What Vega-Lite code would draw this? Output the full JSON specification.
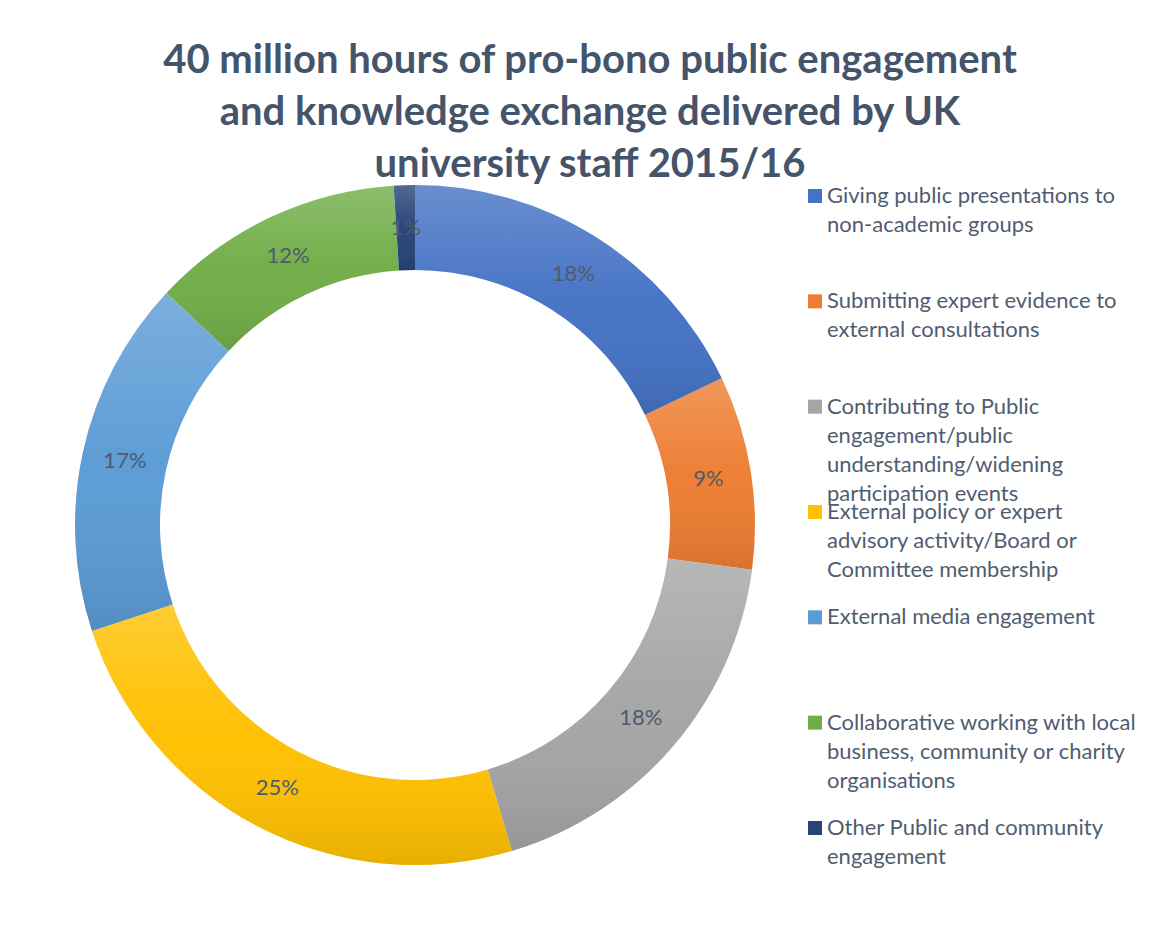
{
  "$schema": "https://vega.github.io/schema/vega-lite/v6.json",
  "padding": {"left": 75, "top": 41, "right": 0, "bottom": 0},
  "background": "white",
  "config": {"view": {"stroke": null}, "font": "Lato"},
  "title": {
    "text": ["40 million hours of pro-bono public engagement", "and knowledge exchange delivered by UK", "university staff 2015/16"],
    "fontSize": 40, "font": "Lato", "fontWeight": "bold", "color": "#44546A",
    "lineHeight": 52, "anchor": "middle", "frame": "group", "dx": 515, "offset": 0
  },
  "data": {"values": [
    {"i": 1, "cat": "Giving public presentations to non-academic groups", "value": 0.179, "legend": "Giving public presentations to\nnon-academic groups"},
    {"i": 2, "cat": "Submitting expert evidence to external consultations", "value": 0.092, "legend": "Submitting expert evidence to\nexternal consultations"},
    {"i": 3, "cat": "Contributing to Public engagement/public understanding/widening participation events", "value": 0.183, "legend": "Contributing to Public\nengagement/public\nunderstanding/widening\nparticipation events"},
    {"i": 4, "cat": "External policy or expert advisory activity/Board or Committee membership", "value": 0.2455, "legend": "External policy or expert\nadvisory activity/Board or\nCommittee membership"},
    {"i": 5, "cat": "External media engagement", "value": 0.170, "legend": "External media engagement"},
    {"i": 6, "cat": "Collaborative working with local business, community or charity organisations", "value": 0.1205, "legend": "Collaborative working with local\nbusiness, community or charity\norganisations"},
    {"i": 7, "cat": "Other Public and community engagement", "value": 0.010, "legend": "Other Public and community\nengagement"}
  ]},
  "spacing": 0,
  "bounds": "flush",
  "resolve": {"scale": {"color": "shared"}},
  "hconcat": [
    {
      "width": 680, "height": 680,
      "layer": [
        {
          "mark": {"type": "arc", "outerRadius": 340, "innerRadius": 255},
          "encoding": {
            "theta": {"field": "value", "type": "quantitative", "stack": true},
            "order": {"field": "i", "type": "quantitative"},
            "color": {
              "field": "cat", "type": "nominal", "legend": null,
              "scale": {
                "domain": [
                  "Giving public presentations to non-academic groups",
                  "Submitting expert evidence to external consultations",
                  "Contributing to Public engagement/public understanding/widening participation events",
                  "External policy or expert advisory activity/Board or Committee membership",
                  "External media engagement",
                  "Collaborative working with local business, community or charity organisations",
                  "Other Public and community engagement"
                ],
                "range": ["#4472C4", "#ED7D31", "#A5A5A5", "#FFC000", "#5B9BD5", "#70AD47", "#264478"]
              }
            }
          }
        },
        {
          "mark": {"type": "arc", "outerRadius": 340, "innerRadius": 255,
            "color": {"gradient": "linear", "x1": 0, "y1": 0, "x2": 0, "y2": 1, "stops": [
              {"offset": 0, "color": "rgba(255,255,255,0.2)"},
              {"offset": 0.5, "color": "rgba(255,255,255,0.02)"},
              {"offset": 1, "color": "rgba(0,0,0,0.09)"}
            ]}},
          "encoding": {
            "theta": {"field": "value", "type": "quantitative", "stack": true},
            "order": {"field": "i", "type": "quantitative"},
            "detail": {"field": "cat", "type": "nominal"}
          }
        },
        {
          "mark": {"type": "text", "radius": 297, "fontSize": 22, "color": "#4F5B6D", "font": "Lato"},
          "encoding": {
            "theta": {"field": "value", "type": "quantitative", "stack": true},
            "order": {"field": "i", "type": "quantitative"},
            "detail": {"field": "cat", "type": "nominal"},
            "text": {"field": "value", "type": "quantitative", "format": ".0%"}
          }
        }
      ]
    },
    {
      "width": 120, "height": 654,
      "encoding": {
        "y": {"field": "cat", "type": "nominal", "sort": {"field": "i"}, "scale": {"type": "point", "padding": 0.1045}, "axis": null}
      },
      "layer": [
        {
          "mark": {"type": "point", "shape": "square", "filled": true, "size": 196, "opacity": 1},
          "encoding": {"color": {"field": "cat", "type": "nominal", "legend": null}}
        },
        {
          "mark": {"type": "text", "align": "left", "baseline": "alphabetic", "dx": 12, "dy": 7, "fontSize": 22, "lineHeight": 29, "lineBreak": "\n", "color": "#505D70", "font": "Lato"},
          "encoding": {"text": {"field": "legend", "type": "nominal"}}
        }
      ]
    }
  ]
}
